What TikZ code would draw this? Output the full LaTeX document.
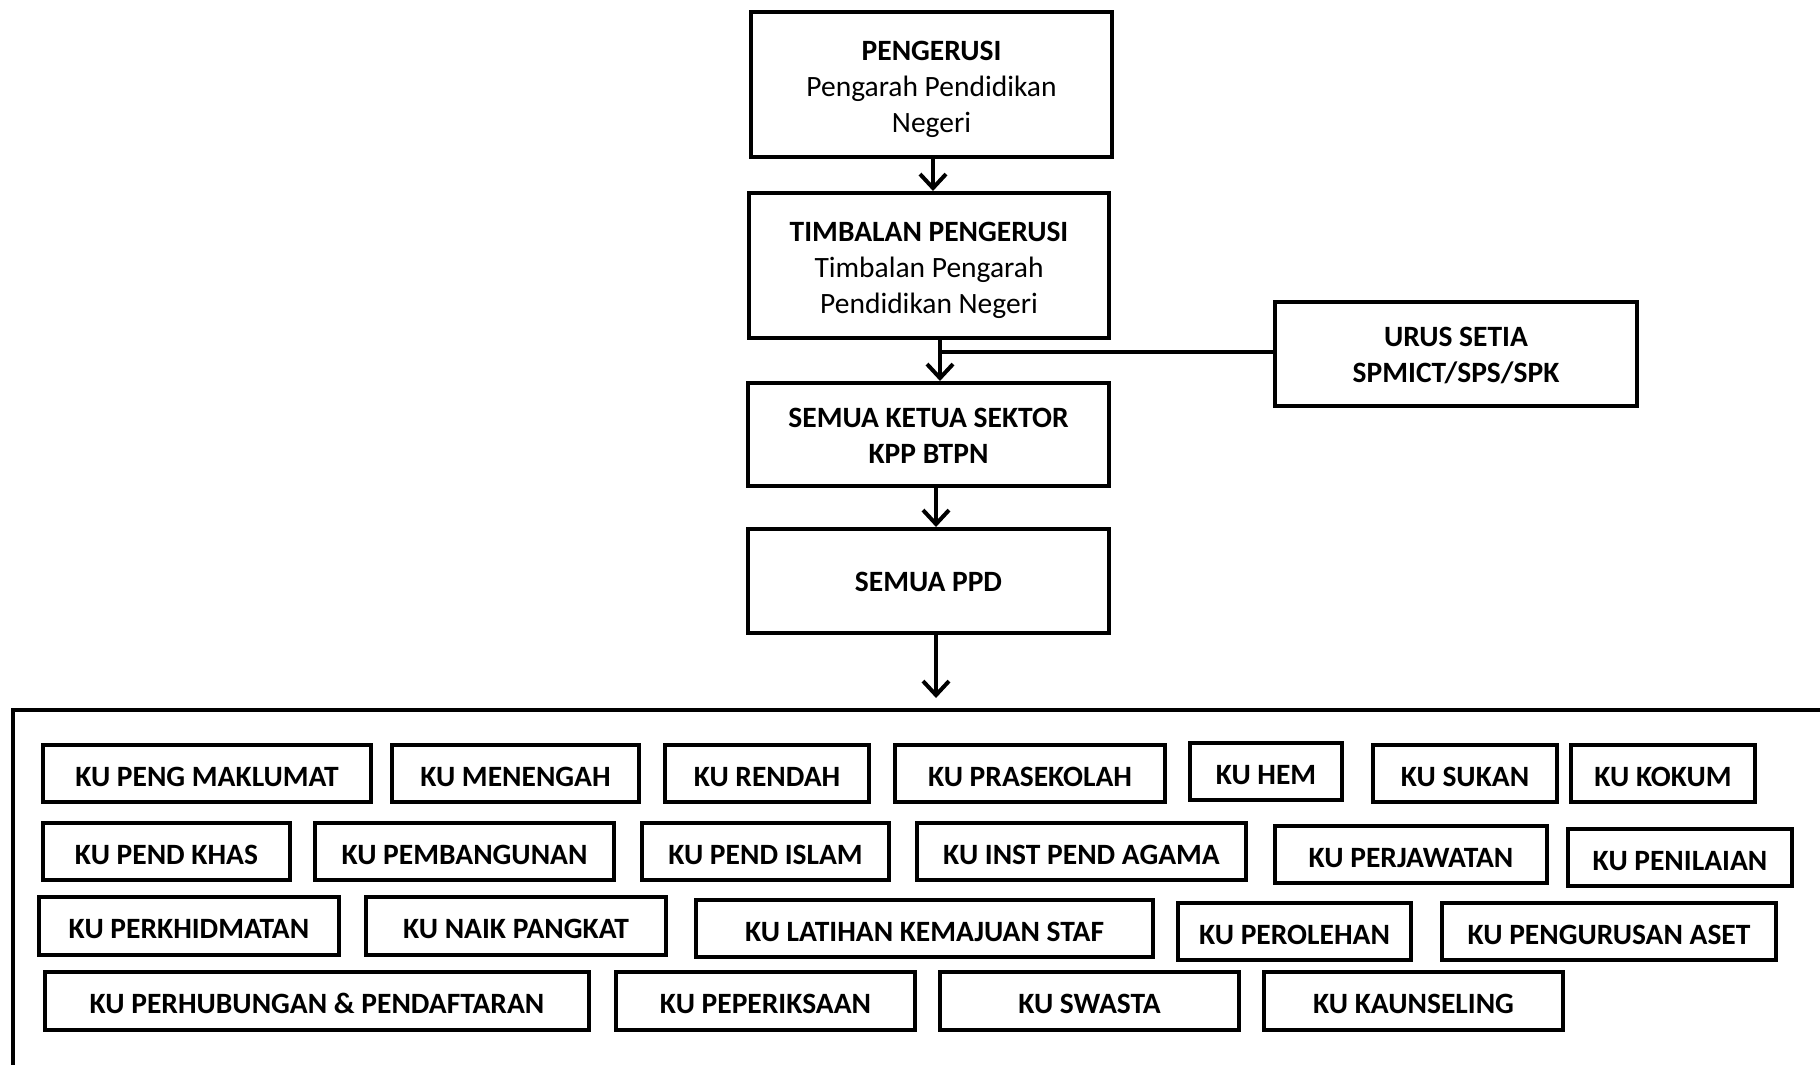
\documentclass[tikz,border=0pt]{standalone}
\usepackage{fontspec}
\setmainfont{Carlito}
\usetikzlibrary{arrows.meta}
\tikzset{
  basebox/.style={draw, line width=4pt, inner sep=0pt, align=center, fill=white},
  box/.style={basebox, text depth=0pt, font=\fontsize{29.5}{36}\selectfont},
  bbox/.style={basebox, font=\bfseries\fontsize{29.5}{36}\selectfont},
  kubox/.style={draw, line width=4pt, inner sep=0pt, fill=white,
    text height=25.6pt, text depth=0pt, font=\bfseries\fontsize{29.5}{34}\selectfont},
  arr/.style={line width=4pt, -{Straight Barb[length=14pt,width=26pt,line width=4pt]}},
  conn/.style={line width=4pt},
  frame/.style={line width=4.5pt},
}
\newcommand\lift[1]{\rule{0pt}{#1pt}}
% #1 name, #2 style, #3 left, #4 top, #5 right, #6 bottom, #7 text
\newcommand\placebox[7]{%
  \node[#2, minimum width={(#5-#3-4)*1pt}, minimum height={(#6-#4-4)*1pt}]
    (#1) at ({(#3+#5)/2},{(#4+#6)/2}) {#7};}
\begin{document}
\begin{tikzpicture}[x=1pt,y=-1pt]
\useasboundingbox (0,0) rectangle (1820,1065);
\clip (0,0) rectangle (1820,1065);
\fill[white] (0,0) rectangle (1820,1065);

% container frame (extends beyond the page on the right and bottom)
\draw[frame] (13,710) rectangle (1860,1100);

% top column
\placebox{p}{box}{749}{10}{1114}{159}{\lift{24}\textbf{PENGERUSI}\\Pengarah Pendidikan\\Negeri}
\placebox{t}{box}{747}{191}{1111}{340}{\lift{24}\textbf{TIMBALAN PENGERUSI}\\Timbalan Pengarah\\Pendidikan Negeri}
\placebox{u}{bbox}{1273}{300}{1639}{408}{\lift{23}URUS SETIA\\SPMICT/SPS/SPK}
\placebox{k}{bbox}{746}{381}{1111}{488}{\lift{22}SEMUA KETUA SEKTOR\\KPP BTPN}
\placebox{d}{bbox}{746}{527}{1111}{635}{\lift{22}SEMUA PPD}

\coordinate (x1) at (933,0);
\coordinate (j) at (940,352);
\coordinate (c) at (936,698);

\draw[arr] (p.south -| x1) -- (t.north -| x1);
\draw[arr] (t.south -| j) -- (k.north -| j);
\draw[conn] (u.west |- j) -- (j);
\draw[arr] (k.south -| c) -- (d.north -| c);
\draw[arr] (d.south -| c) -- (c);

% row 1
\placebox{ku1}{kubox}{41}{743}{373}{804}{KU PENG MAKLUMAT}
\placebox{ku2}{kubox}{390}{743}{641}{804}{KU MENENGAH}
\placebox{ku3}{kubox}{663}{743}{871}{804}{KU RENDAH}
\placebox{ku4}{kubox}{893}{743}{1167}{804}{KU PRASEKOLAH}
\placebox{ku5}{kubox}{1188}{741}{1344}{802}{KU HEM}
\placebox{ku6}{kubox}{1371}{743}{1559}{804}{KU SUKAN}
\placebox{ku7}{kubox}{1569}{743}{1757}{804}{KU KOKUM}
% row 2
\placebox{ku8}{kubox}{41}{821}{292}{882}{KU PEND KHAS}
\placebox{ku9}{kubox}{313}{821}{616}{882}{KU PEMBANGUNAN}
\placebox{ku10}{kubox}{640}{821}{891}{882}{KU PEND ISLAM}
\placebox{ku11}{kubox}{915}{821}{1248}{882}{KU INST PEND AGAMA}
\placebox{ku12}{kubox}{1273}{824}{1549}{885}{KU PERJAWATAN}
\placebox{ku13}{kubox}{1566}{827}{1794}{888}{KU PENILAIAN}
% row 3
\placebox{ku14}{kubox}{37}{895}{341}{957}{KU PERKHIDMATAN}
\placebox{ku15}{kubox}{364}{895}{668}{957}{KU NAIK PANGKAT}
\placebox{ku16}{kubox}{694}{898}{1155}{959}{KU LATIHAN KEMAJUAN STAF}
\placebox{ku17}{kubox}{1176}{901}{1413}{962}{KU PEROLEHAN}
\placebox{ku18}{kubox}{1440}{901}{1778}{962}{KU PENGURUSAN ASET}
% row 4
\placebox{ku19}{kubox}{43}{970}{591}{1032}{KU PERHUBUNGAN \& PENDAFTARAN}
\placebox{ku20}{kubox}{614}{970}{917}{1032}{KU PEPERIKSAAN}
\placebox{ku21}{kubox}{938}{970}{1241}{1032}{KU SWASTA}
\placebox{ku22}{kubox}{1262}{970}{1565}{1032}{KU KAUNSELING}
\end{tikzpicture}
\end{document}
